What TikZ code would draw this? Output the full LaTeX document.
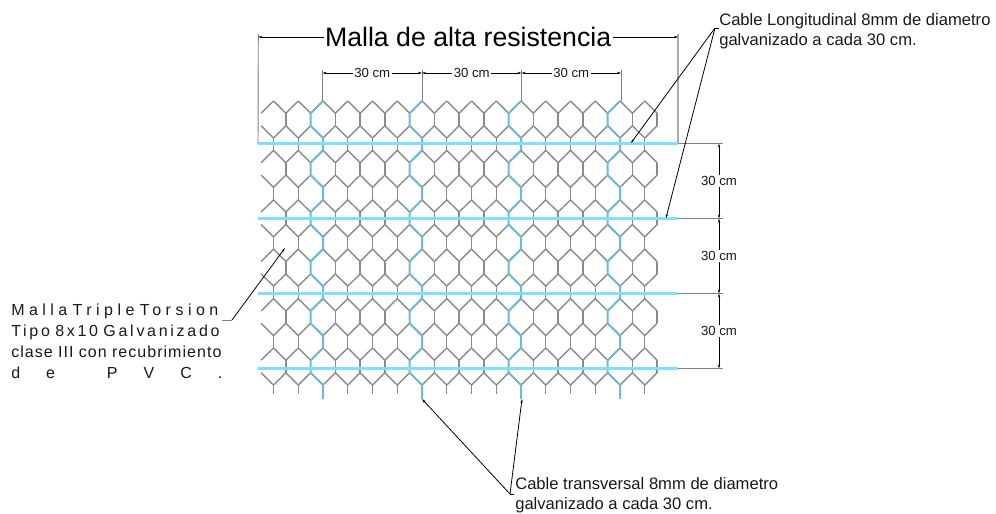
\documentclass[tikz,border=0pt]{standalone}
\usepackage{fontspec}
\setmainfont{Liberation Sans}
\usetikzlibrary{arrows.meta}
\definecolor{meshgray}{HTML}{8A8A8A}
\definecolor{wireblue}{HTML}{6CBAD8}
\definecolor{cablecyan}{HTML}{80DFFF}
\definecolor{extgray}{HTML}{808080}
\tikzset{
  x=0.75pt,y=-0.75pt,
  mesh/.style={draw=meshgray,line width=1.05pt,line join=round},
  wire/.style={draw=wireblue,line width=1.5pt,line join=round},
  cable/.style={draw=cablecyan,line width=2.1pt},
  ext/.style={draw=extgray,line width=0.7pt},
  extlight/.style={draw=gray!65,line width=0.9pt},
  dimline/.style={draw=black,line width=0.7pt,{Stealth[length=3pt,width=1.8pt]}-{Stealth[length=3pt,width=1.8pt]}},
  leader/.style={draw=black,line width=0.6pt,-{Stealth[length=3pt,width=1.8pt]}},
  elbow/.style={draw=black,line width=0.6pt},
  dimlabel/.style={fill=white,inner sep=1pt,font=\fontsize{9.9}{12}\selectfont,text=black!90},
  title/.style={fill=white,inner sep=1pt,font=\fontsize{20}{24}\selectfont,text=black},
  note/.style={inner sep=0pt,anchor=north west,align=left,font=\fontsize{12.45}{15}\selectfont,text=black!90},
}
\begin{document}
\begin{tikzpicture}
\useasboundingbox (0,0) rectangle (996,514);
% mesh
\def\ax{273.5}\def\px{24.75}\def\hx{12.4}\def\py{49.4}\def\yo{88.6}
\foreach \n in {0,...,5}{
  \pgfmathsetmacro{\ya}{\yo+\n*\py}
  \pgfmathsetmacro{\ystub}{\n<5 ? \ya+61.8 : \ya+58.5}
  \foreach \k in {0,...,15}{
    \pgfmathsetmacro{\a}{\ax+\k*\px}
    \draw[mesh] (\a-\hx,\ya+24.7) -- (\a,\ya+12.4) -- (\a+\hx,\ya+24.7);
    \draw[mesh] (\a-\hx,\ya+37.1) -- (\a,\ya+49.4) -- (\a+\hx,\ya+37.1);
    \draw[mesh] (\a,\ya+49.4) -- (\a,\ystub);
    \draw[mesh] (\a+\hx,\ya+24.7) -- (\a+\hx,\ya+37.1);
    \ifnum\k>0 \draw[mesh] (\a-\hx,\ya+24.7) -- (\a-\hx,\ya+37.1);\fi
  }
}
\foreach \k in {2,6,10,14}{
  \pgfmathsetmacro{\a}{\ax+\k*\px}
  \foreach \n in {0,...,5}{
    \pgfmathsetmacro{\ya}{\yo+\n*\py}
    \draw[wire] (\a,\ya+12.4) -- (\a-\hx,\ya+24.7) -- (\a-\hx,\ya+37.1) -- (\a,\ya+49.4) -- (\a,\ya+61.8);
  }
  \draw[wire] (\a,385) -- (\a,399);
}
% cables
\foreach \y/\nm in {143.5/a,218.5/b,293.5/c,368.5/d}{
  \coordinate (cl\nm) at (258,\y);
  \coordinate (cr\nm) at (678,\y);
  \coordinate (dd\nm) at (719,\y);
  \coordinate (de\nm) at (723,\y);
  \draw[cable] (cl\nm) -- (cr\nm);
  \draw[ext] (cr\nm) -- (de\nm);
}
% overall dimension
\coordinate (tl) at (258.3,37);
\coordinate (tr) at (678,37);
\coordinate (tlu) at (258.3,34);
\coordinate (tru) at (678,34);
\draw[ext] (tlu) -- (cla);
\draw[extlight] (tru) -- (cra);
\draw[dimline] (tl) -- node[title,pos=0.5] (ttl) {Malla de alta resistencia} (tr);
% top dimensions
\foreach \x/\nm in {322.5/p,422/q,521.5/r,621/s}{
  \coordinate (t\nm) at (\x,73);
  \coordinate (u\nm) at (\x,70);
  \coordinate (v\nm) at (\x,101);
  \draw[ext] (u\nm) -- (v\nm);
}
\draw[dimline] (tp) -- node[dimlabel] (d1) {30 cm} (tq);
\draw[dimline] (tq) -- node[dimlabel] (d2) {30 cm} (tr);
\draw[dimline] (tr) -- node[dimlabel] (d3) {30 cm} (ts);
% right dimensions
\draw[dimline] (dda) -- node[dimlabel] (d4) {30 cm} (ddb);
\draw[dimline] (ddb) -- node[dimlabel] (d5) {30 cm} (ddc);
\draw[dimline] (ddc) -- node[dimlabel] (d6) {30 cm} (ddd);
% notes
\node[note] (nlong) at (719,13) {Cable Longitudinal 8mm de diametro\\galvanizado a cada 30 cm.};
\node[note] (ntrans) at (515,477) {Cable transversal 8mm de diametro\\galvanizado a cada 30 cm.};
\node[inner sep=0pt,anchor=north west,align=left,text width=158.25pt,font=\fontsize{12}{15.8}\selectfont,text=black!90] (nmesh) at (11,303.5) {%
  \makebox[158.25pt][s]{\addfontfeature{LetterSpace=28}Malla Triple Torsion}\\
  \makebox[158.25pt][s]{\addfontfeature{LetterSpace=17}Tipo 8x10 Galvanizado}\\
  \makebox[158.25pt][s]{\addfontfeature{LetterSpace=6.5}clase III con recubrimiento}\\
  \makebox[158.25pt][s]{d\hfill e\hfill\hfill P\hfill V\hfill C\hfill .}};
% leaders
\coordinate (ela) at (715,28);
\coordinate (elb) at (719,28);
\coordinate (la) at (631,143);
\coordinate (lb) at (666,218);
\draw[elbow] (elb) -- (ela);
\draw[leader] (ela) -- (la);
\draw[leader] (ela) -- (lb);
\coordinate (eta) at (510,494);
\coordinate (etb) at (514,494);
\coordinate (ta) at (422,399);
\coordinate (tb) at (522,399);
\draw[elbow] (etb) -- (eta);
\draw[leader] (eta) -- (ta);
\draw[leader] (eta) -- (tb);
\coordinate (ema) at (232,320);
\coordinate (emb) at (222,320);
\coordinate (ma) at (285,248);
\draw[ext] (emb) -- (ema);
\draw[leader] (ema) -- (ma);
\end{tikzpicture}
\end{document}
